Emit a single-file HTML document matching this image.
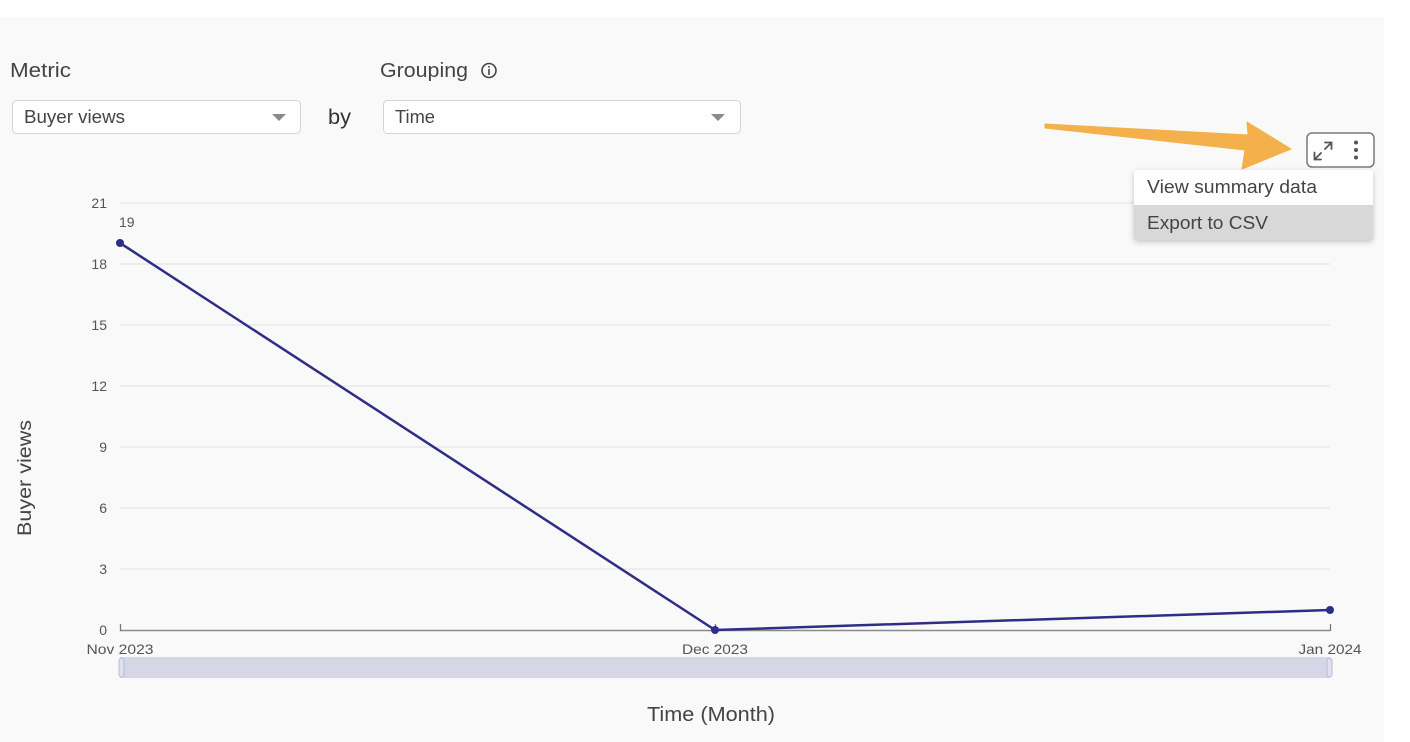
<!DOCTYPE html>
<html><head><meta charset="utf-8"><style>
html,body{margin:0;padding:0;background:#fff;}
body{width:1410px;height:742px;overflow:hidden;position:relative;font-family:"Liberation Sans",sans-serif;}
svg{position:absolute;left:0;top:0;}
</style></head><body>
<svg width="1410" height="742" viewBox="0 0 1410 742" xmlns="http://www.w3.org/2000/svg" font-family="Liberation Sans, sans-serif">
<defs>
<filter id="sh" x="-10%" y="-20%" width="120%" height="150%"><feDropShadow dx="0" dy="2" stdDeviation="3" flood-color="#000" flood-opacity="0.22"/></filter>
</defs>
<rect x="0" y="0" width="1410" height="742" fill="#fff"/>
<rect x="0" y="17" width="1384" height="725" fill="#f9f9f9"/>

<!-- labels -->
<text x="10" y="77" font-size="20" fill="#444" textLength="61" lengthAdjust="spacingAndGlyphs">Metric</text>
<text x="380" y="77" font-size="20" fill="#444" textLength="88" lengthAdjust="spacingAndGlyphs">Grouping</text>
<circle cx="489" cy="70.5" r="7" fill="none" stroke="#444" stroke-width="1.6"/>
<rect x="488.2" y="69" width="1.6" height="6" fill="#444"/>
<rect x="488.2" y="66" width="1.6" height="1.6" fill="#444"/>

<!-- selects -->
<rect x="12.5" y="100.5" width="288" height="33" rx="4" fill="#fff" stroke="#d4d4d4"/>
<text x="24" y="123" font-size="18" fill="#444" textLength="101" lengthAdjust="spacingAndGlyphs">Buyer views</text>
<polygon points="272,114 286,114 279,121" fill="#8a8a8a"/>
<text x="328" y="124" font-size="21" fill="#333" textLength="23" lengthAdjust="spacingAndGlyphs">by</text>
<rect x="383.5" y="100.5" width="357" height="33" rx="4" fill="#fff" stroke="#d4d4d4"/>
<text x="395" y="123" font-size="18" fill="#444" textLength="40" lengthAdjust="spacingAndGlyphs">Time</text>
<polygon points="711,114 725,114 718,121" fill="#8a8a8a"/>

<!-- gridlines -->
<g stroke="#e6e6e6" stroke-width="1.2">
<line x1="120" y1="203" x2="1330" y2="203"/>
<line x1="120" y1="264" x2="1330" y2="264"/>
<line x1="120" y1="325" x2="1330" y2="325"/>
<line x1="120" y1="386" x2="1330" y2="386"/>
<line x1="120" y1="447" x2="1330" y2="447"/>
<line x1="120" y1="508" x2="1330" y2="508"/>
<line x1="120" y1="569" x2="1330" y2="569"/>
</g>
<g font-size="14" fill="#555" text-anchor="end">
<text x="107" y="208">21</text>
<text x="107" y="269">18</text>
<text x="107" y="330">15</text>
<text x="107" y="391">12</text>
<text x="107" y="452">9</text>
<text x="107" y="513">6</text>
<text x="107" y="574">3</text>
<text x="107" y="635">0</text>
</g>
<!-- x axis -->
<line x1="120" y1="630.5" x2="1330" y2="630.5" stroke="#8a8a8a" stroke-width="1.5"/>
<g stroke="#777" stroke-width="1.3">
<line x1="120.5" y1="624" x2="120.5" y2="631"/>
<line x1="715.5" y1="624" x2="715.5" y2="631"/>
<line x1="1330.5" y1="624" x2="1330.5" y2="631"/>
</g>
<g font-size="14" fill="#555" text-anchor="middle">
<text x="120" y="654" textLength="67" lengthAdjust="spacingAndGlyphs">Nov 2023</text>
<text x="715" y="654" textLength="66" lengthAdjust="spacingAndGlyphs">Dec 2023</text>
<text x="1330" y="654" textLength="63" lengthAdjust="spacingAndGlyphs">Jan 2024</text>
</g>
<!-- slider -->
<rect x="120" y="657" width="1210" height="21" fill="#d5d7e6"/>
<rect x="119" y="658" width="5" height="19" rx="2.5" fill="#dfe1ee" stroke="#b6bbd6" stroke-width="1"/>
<rect x="1327" y="658" width="5" height="19" rx="2.5" fill="#dfe1ee" stroke="#b6bbd6" stroke-width="1"/>

<!-- series -->
<polyline points="120,243 715,630 1330,610" fill="none" stroke="#2e2e86" stroke-width="2.5" stroke-linejoin="round"/>
<circle cx="120" cy="243" r="4" fill="#2e2e86"/>
<circle cx="715" cy="630" r="4" fill="#2e2e86"/>
<circle cx="1330" cy="610" r="4" fill="#2e2e86"/>
<text x="119" y="227" font-size="14" fill="#555">19</text>

<!-- axis titles -->
<text x="647" y="721" font-size="20" fill="#444" textLength="128" lengthAdjust="spacingAndGlyphs">Time (Month)</text>
<text transform="translate(31,536) rotate(-90)" font-size="19" fill="#444" textLength="116" lengthAdjust="spacingAndGlyphs">Buyer views</text>

<!-- orange arrow -->
<polygon points="1045,124 1248,135 1247,122 1291,149 1242,169 1245,150 1045,128" fill="#f4b04a" stroke="#f4b04a" stroke-width="1" stroke-linejoin="round"/>

<!-- menu button -->
<rect x="1307" y="133" width="67" height="34" rx="5" fill="#fff" stroke="#7a7a7a" stroke-width="1.5"/>
<g stroke="#555" stroke-width="1.8" fill="none" stroke-linecap="round">
<line x1="1325" y1="149" x2="1331" y2="143"/>
<polyline points="1325,142.5 1331.5,142.5 1331.5,149"/>
<line x1="1315" y1="159" x2="1321" y2="153"/>
<polyline points="1314.5,152.5 1314.5,159.5 1321,159.5"/>
</g>
<circle cx="1356" cy="142.5" r="2" fill="#555"/>
<circle cx="1356" cy="150" r="2" fill="#555"/>
<circle cx="1356" cy="157.5" r="2" fill="#555"/>

<!-- dropdown menu -->
<g filter="url(#sh)">
<rect x="1134" y="170" width="239" height="70" rx="3" fill="#fff"/>
</g>
<rect x="1134" y="205" width="239" height="35" fill="#d8d8d8"/>
<text x="1147" y="193" font-size="18" fill="#444" textLength="170" lengthAdjust="spacingAndGlyphs">View summary data</text>
<text x="1147" y="229" font-size="18" fill="#444" textLength="121" lengthAdjust="spacingAndGlyphs">Export to CSV</text>
</svg>
</body></html>
